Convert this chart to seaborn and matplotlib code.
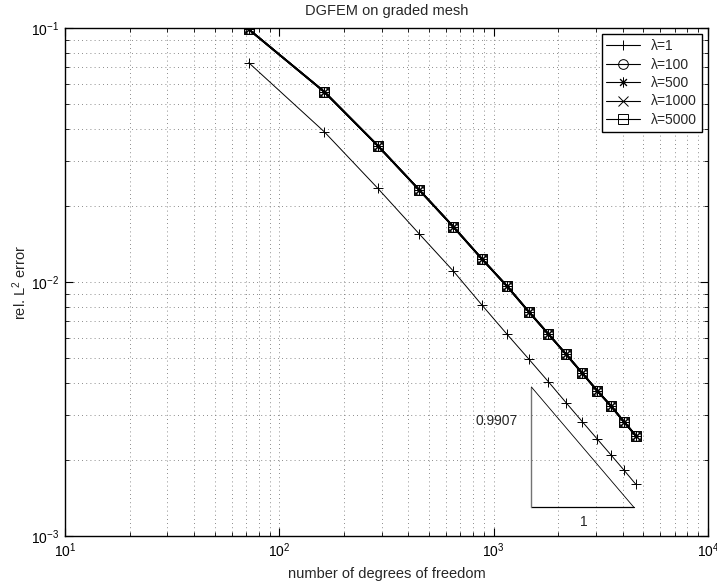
import numpy as np
import pandas as pd
import matplotlib
matplotlib.use("Agg")
import matplotlib.pyplot as plt
import seaborn as sns
from matplotlib.ticker import LogLocator, NullFormatter

# ---- data ----
dof = [72, 162, 288, 450, 648, 882, 1152, 1458, 1800, 2178, 2592, 3042, 3528, 4050, 4608]
err_lam1 = [0.0730, 0.03905, 0.02338, 0.01545, 0.01105, 0.00811, 0.00624, 0.004975,
            0.00405, 0.003347, 0.002818, 0.002409, 0.002084, 0.001819, 0.001597]
err_lam100 = [0.0988, 0.0561, 0.0344, 0.02302, 0.01651, 0.01232, 0.009645, 0.007638,
              0.00624, 0.005191, 0.004372, 0.003733, 0.003249, 0.002818, 0.002482]
err_lam500 = list(err_lam100)
err_lam1000 = list(err_lam100)
err_lam5000 = list(err_lam100)

labels = ["λ=1", "λ=100", "λ=500", "λ=1000", "λ=5000"]
markers = ["+", "o", (8, 2, 0), "x", "s"]

tri_x = [1500, 4500]
tri_y_base = 0.0013
slope = 0.9907
slope_label = "0.9907"
run_label = "1"

sns.set_theme(style="ticks")
plt.rcParams["font.family"] = ["Liberation Sans", "DejaVu Sans"]
plt.rcParams["mathtext.fontset"] = "custom"
plt.rcParams["mathtext.rm"] = "Liberation Sans"
plt.rcParams["mathtext.it"] = "Liberation Sans:italic"

FS = 10

fig = plt.figure(figsize=(7.17, 5.84), dpi=100)
ax = fig.add_axes([65 / 717, 48 / 584, 643 / 717, 508 / 584])

series = [err_lam1, err_lam100, err_lam500, err_lam1000, err_lam5000]
for i, (lab, mk, ys) in enumerate(zip(labels, markers, series)):
    df = pd.DataFrame({"dof": dof, "err": ys})
    lw = 0.7 if i == 0 else 1.3
    sns.lineplot(data=df, x="dof", y="err", ax=ax, color="black", lw=lw,
                 marker=mk, markersize=7, markerfacecolor="none",
                 markeredgecolor="black", markeredgewidth=0.7, label=lab)

ax.set_xscale("log")
ax.set_yscale("log")
ax.set_xlim(10, 1e4)
ax.set_ylim(1e-3, 1e-1)

# slope triangle
x0, x1 = tri_x
y0 = tri_y_base
y1 = y0 * (x1 / x0) ** slope
ax.plot([x0, x1], [y0, y0], color="black", lw=0.9)
ax.plot([x0, x0], [y0, y1], color="0.45", lw=1.0)
ax.plot([x0, x1], [y1, y0], color="black", lw=0.6)
ax.text(1290, 0.00284, slope_label, ha="right", va="center", fontsize=FS)
ax.text(2620, 0.00114, run_label, ha="center", va="center", fontsize=FS)

# grid
ax.xaxis.set_major_locator(LogLocator(base=10, numticks=10))
ax.xaxis.set_minor_locator(LogLocator(base=10, subs=np.arange(2, 10), numticks=20))
ax.yaxis.set_minor_locator(LogLocator(base=10, subs=np.arange(2, 10), numticks=20))
ax.xaxis.set_minor_formatter(NullFormatter())
ax.yaxis.set_minor_formatter(NullFormatter())
ax.grid(True, which="both", linestyle=(0, (1, 4)), color="0.4", lw=0.6)

ax.tick_params(which="both", direction="in", top=True, right=True, colors="black",
               labelsize=FS)
ax.tick_params(which="major", length=6, width=0.8, pad=4)
ax.tick_params(which="minor", length=3, width=0.6)
for s in ax.spines.values():
    s.set_color("black")
    s.set_linewidth(1.0)

ax.set_title("DGFEM on graded mesh", fontsize=10.5, pad=9)
ax.set_xlabel("number of degrees of freedom", fontsize=10.5, labelpad=5)
ax.set_ylabel("rel. L$^2$ error", fontsize=10.5, labelpad=2)

leg = ax.legend(loc="upper right", fontsize=FS, frameon=True, fancybox=False,
                edgecolor="black", framealpha=1, borderaxespad=0.45,
                handlelength=2.4, handletextpad=0.8, labelspacing=0.32, borderpad=0.35)
leg.get_frame().set_linewidth(1.0)
for h in leg.legend_handles:
    h.set_linewidth(0.8)

fig.savefig("out.png", dpi=100, facecolor="white")
